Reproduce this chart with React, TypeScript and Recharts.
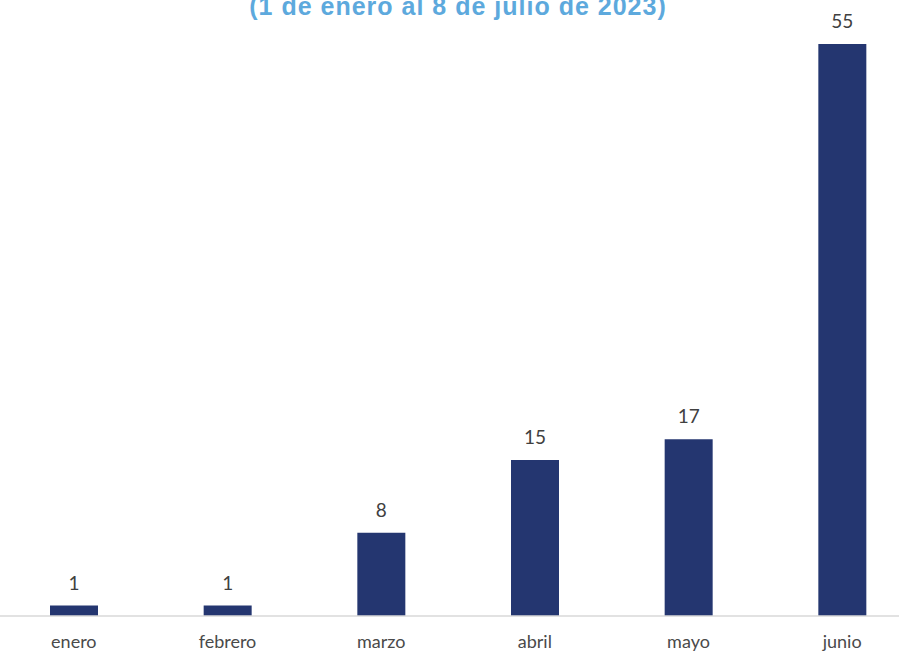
import React from "react";
import { BarChart, Bar, XAxis, YAxis, LabelList } from "recharts";

const months = ["enero", "febrero", "marzo", "abril", "mayo", "junio"];
const casos = [1, 1, 8, 15, 17, 55];
const title = "(1 de enero al 8 de julio de 2023)";

const data = months.map((m, i) => ({ mes: m, casos: casos[i] }));

export default function App() {
  return (
    <div style={{ position: "absolute", left: -3, top: 0, width: 922, height: 652, overflow: "visible" }}>
      <svg width={922} height={30} style={{ position: "absolute", left: 0, top: 0 }}>
        <text
          x={461}
          y={15}
          textAnchor="middle"
          fontFamily="Liberation Sans, Arial, sans-serif"
          fontWeight="bold"
          fontSize={25}
          letterSpacing={1}
          fill="#5DA9DD"
        >
          {title}
        </text>
      </svg>
      <BarChart
        width={922}
        height={652}
        data={data}
        margin={{ top: 44, right: 0, bottom: 0, left: 0 }}
      >
        <XAxis
          dataKey="mes"
          height={36}
          axisLine={{ stroke: "#D9D9D9", strokeWidth: 1.5 }}
          tickLine={false}
          tickSize={6}
          tickMargin={13}
          interval={0}
          tick={{ fill: "#4A4A4A", fontSize: 18, fontFamily: "Lato, sans-serif" }}
        />
        <YAxis hide domain={[0, 55]} />
        <Bar dataKey="casos" fill="#243670" barSize={48} isAnimationActive={false}>
          <LabelList
            dataKey="casos"
            position="top"
            offset={16}
            fill="#404040"
            fontSize={19}
            fontFamily="Lato, sans-serif"
          />
        </Bar>
      </BarChart>
    </div>
  );
}
